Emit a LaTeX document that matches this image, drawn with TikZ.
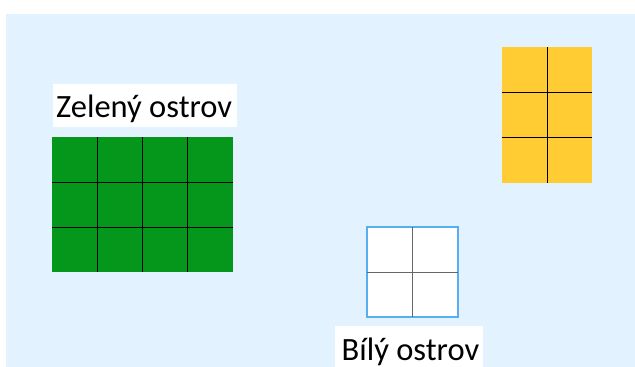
\documentclass[tikz,border=0pt]{standalone}
\usepackage{fontspec}
\setmainfont{Carlito}
\definecolor{bgblue}{HTML}{E2F3FF}
\definecolor{isgreen}{HTML}{04971C}
\definecolor{isyellow}{HTML}{FFCC33}
\definecolor{isborder}{HTML}{55AFF0}
\begin{document}
\begin{tikzpicture}[x=1pt,y=-1pt,
  gridline/.style={black,line width=0.8pt},
  labeltext/.style={inner sep=0pt,anchor=base west,font=\fontsize{32.5}{36}\selectfont}]
\useasboundingbox (0,0) rectangle (635,367);
\fill[bgblue] (6,14) rectangle (635,367);
% green island
\fill[white] (53,84) rectangle (237,127);
\node[labeltext] (zlab) at (56,117.5) {Zelený ostrov};
\fill[isgreen] (52,137) rectangle (233,272);
\foreach \i in {1,2,3} \draw[gridline] ({52+\i*45.25},137) -- ({52+\i*45.25},272);
\foreach \j in {1,2} \draw[gridline] (52,{137+\j*45}) -- (233,{137+\j*45});
% yellow island
\fill[isyellow] (502,47) rectangle (592,183);
\draw[gridline] (547,47) -- (547,183);
\foreach \j in {1,2} \draw[gridline] (502,{47+\j*45.33}) -- (592,{47+\j*45.33});
% white island
\filldraw[fill=white,draw=isborder,line width=1.5pt] (367,227) rectangle (458,317);
\draw[black!60,line width=0.8pt] (412.5,227) -- (412.5,317);
\draw[black!60,line width=0.8pt] (367,272) -- (458,272);
\fill[white] (335,326) rectangle (483,367);
\node[labeltext] (blab) at (341.5,360) {Bílý ostrov};
\end{tikzpicture}
\end{document}
